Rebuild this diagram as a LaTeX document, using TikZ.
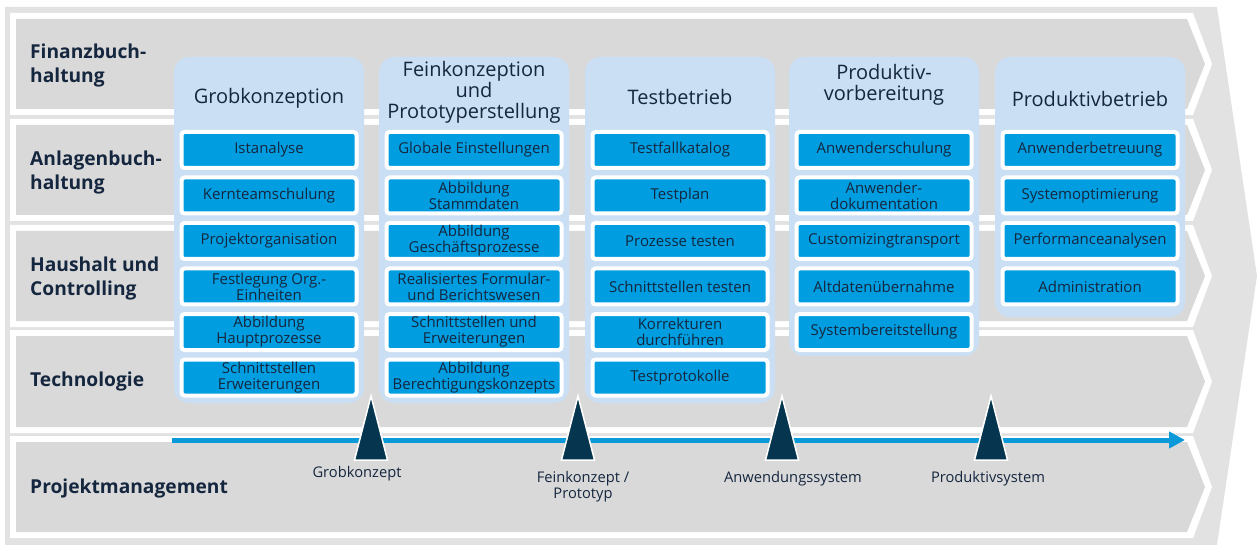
\documentclass[tikz,border=0pt]{standalone}
\usepackage{fontspec}
\setmainfont{Open Sans}
\usetikzlibrary{positioning,arrows.meta}
\definecolor{navy}{HTML}{15263F}
\definecolor{rahmen}{HTML}{E2E2E2}
\definecolor{bahngrau}{HTML}{D9D9D9}
\definecolor{phasenblau}{HTML}{CADFF3}
\definecolor{taskblau}{HTML}{009EE0}
\definecolor{msblau}{HTML}{06364F}
\definecolor{pfeilblau}{HTML}{0A99D9}
\tikzset{
  lane/.style={anchor=west,align=left,inner sep=0pt,text=navy,font=\bfseries\fontsize{19.2}{23.5}\selectfont},
  phase/.style={align=center,text=navy,font=\fontsize{20}{21}\selectfont},
  task/.style={draw=white,line width=4pt,fill=taskblau,rounded corners=3pt,inner sep=0pt,
    minimum width=175pt,minimum height=36pt,align=center,text=navy,font=\fontsize{15}{16}\selectfont},
  mslabel/.style={align=center,text=navy,font=\fontsize{14.7}{16}\selectfont}
}
\newcommand{\bahn}[2]{%
  \fill[white] (10,#1) -- (1193,#1) -- (1212,{(#1+#2)/2}) -- (1193,#2) -- (10,#2) -- cycle;
  \fill[bahngrau] (16,#1+6) -- (1187,#1+6) -- (1205,{(#1+#2)/2}) -- (1187,#2-6) -- (16,#2-6) -- cycle;
}

\begin{document}
\begin{tikzpicture}[x=1pt,y=-1pt]
      \useasboundingbox (0,0) rectangle (1258,545);
      \fill[rahmen] (5,7) -- (1217,7) -- (1257,276) -- (1217,545) -- (5,545) -- cycle;
      \foreach \a/\b in {13/115,119/221,225/327,330/433,436/538}
        \bahn{\a}{\b};

      \node[lane] (lane1) at (30,65.5) {Finanzbuch-\\haltung};
      \node[lane] (lane2) at (30,172.5) {Anlagenbuch-\\haltung};
      \node[lane] (lane3) at (30,278.5) {Haushalt und\\Controlling};
      \node[lane] (lane4) at (30,382) {Technologie};
      \node[lane] (lane5) at (30,489) {Projektmanagement};

      \coordinate (pm-start) at (172,440);
      \coordinate (pm-end) at (1185,440);
      \draw[pfeilblau,line width=5pt,-{Triangle[length=16pt,width=16pt]}] (pm-start) -- (pm-end);

      \foreach \x/\y in {269/403,474/403,680/403,884/356,1090/317}
        \fill[phasenblau,rounded corners=15pt] (\x-95,57) rectangle (\x+95,\y);

      \node[phase] (grob) at (269,98) {Grobkonzeption};
      \node[phase] (fein) at (474,92.5) {Feinkonzeption\\und\\Prototyperstellung};
      \node[phase] (test) at (680,97) {Testbetrieb};
      \node[phase] (vorb) at (884,84.5) {Produktiv-\\vorbereitung};
      \node[phase] (prod) at (1090,99) {Produktivbetrieb};

      \foreach \t [count=\i] in {Istanalyse,Kernteamschulung,Projektorganisation,
          {Festlegung Org.-\\Einheiten},{Abbildung\\Hauptprozesse},{Schnittstellen\\Erweiterungen}}
        \node[task] (grob-\i) at (269,104.5+45.5*\i) {\t};
      \foreach \t [count=\i] in {Globale Einstellungen,{Abbildung\\Stammdaten},{Abbildung\\Geschäftsprozesse},
          {Realisiertes Formular-\\und Berichtswesen},{Schnittstellen und\\Erweiterungen},{Abbildung\\Berechtigungskonzepts}}
        \node[task] (fein-\i) at (474,104.5+45.5*\i) {\t};
      \foreach \t [count=\i] in {Testfallkatalog,Testplan,Prozesse testen,Schnittstellen testen,
          {Korrekturen\\durchführen},Testprotokolle}
        \node[task] (test-\i) at (680,104.5+45.5*\i) {\t};
      \foreach \t [count=\i] in {Anwenderschulung,{Anwender-\\dokumentation},Customizingtransport,
          Altdatenübernahme,Systembereitstellung}
        \node[task] (vorb-\i) at (884,104.5+45.5*\i) {\t};
      \foreach \t [count=\i] in {Anwenderbetreuung,Systemoptimierung,Performanceanalysen,Administration}
        \node[task] (prod-\i) at (1090,104.5+45.5*\i) {\t};

      \foreach \x [count=\i] in {371,578,782,991} {
        \coordinate (ms\i) at (\x,396);
        \filldraw[draw=white,line width=1.5pt,fill=msblau] (ms\i) -- ++(-16.5,64) -- ++(33,0) -- cycle;
      }
      \node[mslabel] (ms1-text) at (357,474) {Grobkonzept};
      \node[mslabel] (ms2-text) at (583,487) {Feinkonzept /\\Prototyp};
      \node[mslabel] (ms3-text) at (793,479) {Anwendungssystem};
      \node[mslabel] (ms4-text) at (988,479) {Produktivsystem};
\end{tikzpicture}
\end{document}
